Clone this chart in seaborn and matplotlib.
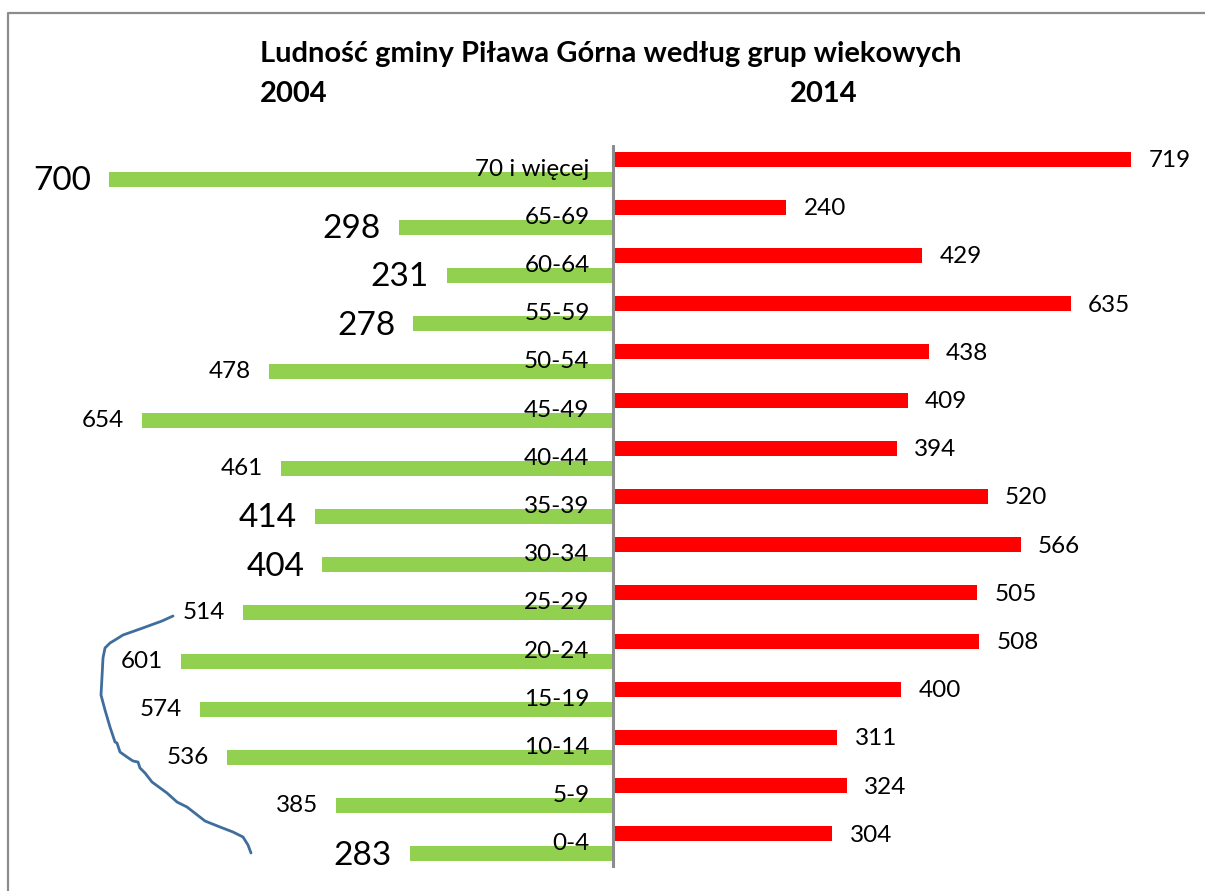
import numpy as np
import pandas as pd
import matplotlib
matplotlib.use("Agg")
import matplotlib.pyplot as plt
import seaborn as sns
from matplotlib.lines import Line2D

# ---------------- data ----------------
categories = ["70 i więcej", "65-69", "60-64", "55-59", "50-54", "45-49", "40-44",
              "35-39", "30-34", "25-29", "20-24", "15-19", "10-14", "5-9", "0-4"]
pop_2004 = [700, 298, 231, 278, 478, 654, 461, 414, 404, 514, 601, 574, 536, 385, 283]
pop_2014 = [719, 240, 429, 635, 438, 409, 394, 520, 566, 505, 508, 400, 311, 324, 304]
# which 2004 labels are drawn in the larger font in the original
big_label_2004 = [True, True, True, True, False, False, False, True, True,
                  False, False, False, False, False, True]
years = ["2014", "2004"]
title = "Ludność gminy Piława Górna według grup wiekowych"

# hand-drawn blue bracket annotation (figure pixel coordinates)
bracket_x = [173, 162, 140, 123, 115, 110, 105, 103, 102, 101, 105, 110, 115, 117, 120,
             127, 133, 138, 140, 145, 152, 167, 177, 187, 205, 220, 233, 243, 248, 251]
bracket_y = [616, 621, 629, 635, 640, 643, 648, 658, 677, 695, 710, 727, 742, 743, 752,
             757, 761, 762, 768, 773, 782, 793, 802, 807, 821, 827, 832, 837, 845, 853]

# ---------------- figure ----------------
W, H, DPI = 1205, 891, 100
sns.set_theme(style="white")
plt.rcParams["font.family"] = ["Lato", "DejaVu Sans"]

fig = plt.figure(figsize=(W / DPI, H / DPI), dpi=DPI)
fig.patch.set_facecolor("white")

# axes placement (pixel based)
ax_left_px, ax_right_px = 37.3, 37.3 + 1152
ax_top_px, ax_bot_px = 145, 868
ax = fig.add_axes([ax_left_px / W, 1 - ax_bot_px / H,
                   (ax_right_px - ax_left_px) / W, (ax_bot_px - ax_top_px) / H])

df = pd.DataFrame({
    "group": categories * 2,
    "year": ["2014"] * len(categories) + ["2004"] * len(categories),
    "value": list(pop_2014) + list(pop_2004),
})
df["signed"] = np.where(df["year"] == "2004", -df["value"], df["value"])

sns.barplot(data=df, x="signed", y="group", hue="year", order=categories,
            hue_order=years, palette={"2014": "#FF0000", "2004": "#92D050"},
            orient="h", width=0.83, gap=0.25, dodge=True, saturation=1,
            errorbar=None, legend=False, linewidth=0, ax=ax)

ax.set_xlim(-800, 800)
ax.set_ylim(len(categories) - 0.5, -0.5)
for s in ax.spines.values():
    s.set_visible(False)
ax.set_xticks([])
ax.set_yticks([])
ax.set_xlabel("")
ax.set_ylabel("")
ax.axvline(0, color="#8C8C8C", lw=2.2, zorder=5)

SMALL = 17.5
BIG = 24

# category labels near the centre line
for i, cat in enumerate(categories):
    ax.text(-33, i, cat, ha="right", va="center", fontsize=SMALL, color="black", zorder=6)

# value labels
cont_2014, cont_2004 = ax.containers[0], ax.containers[1]
for bar, v in zip(cont_2014, pop_2014):
    yc = bar.get_y() + bar.get_height() / 2
    ax.text(bar.get_x() + bar.get_width() + 24, yc + 0.03, f"{v}", ha="left", va="center",
            fontsize=SMALL, color="black")
for bar, v, big in zip(cont_2004, pop_2004, big_label_2004):
    yc = bar.get_y() + bar.get_height() / 2
    end = min(bar.get_x(), bar.get_x() + bar.get_width())
    ax.text(end - 25, yc + (0.04 if big else 0), f"{v}", ha="right", va="center",
            fontsize=BIG if big else SMALL, color="black")

# titles
fig.text(260 / W, 1 - 54 / H, title, ha="left", va="center",
         fontsize=21, fontweight="bold", color="black")
fig.text(260 / W, 1 - 94 / H, "2004", ha="left", va="center",
         fontsize=21, fontweight="bold", color="black")
fig.text(790 / W, 1 - 94 / H, "2014", ha="left", va="center",
         fontsize=21, fontweight="bold", color="black")

# chart-area border (partially visible)
fig.add_artist(Line2D([8 / W, 8 / W, 1.0], [0.0, 1 - 13 / H, 1 - 13 / H],
                      transform=fig.transFigure, color="#8C8C8C", lw=1.6))

# hand-drawn bracket
fig.add_artist(Line2D([x / W for x in bracket_x], [1 - y / H for y in bracket_y],
                      transform=fig.transFigure, color="#3F6E9E", lw=2,
                      solid_joinstyle="round", solid_capstyle="round"))

fig.savefig("out.png", dpi=DPI, facecolor="white")
